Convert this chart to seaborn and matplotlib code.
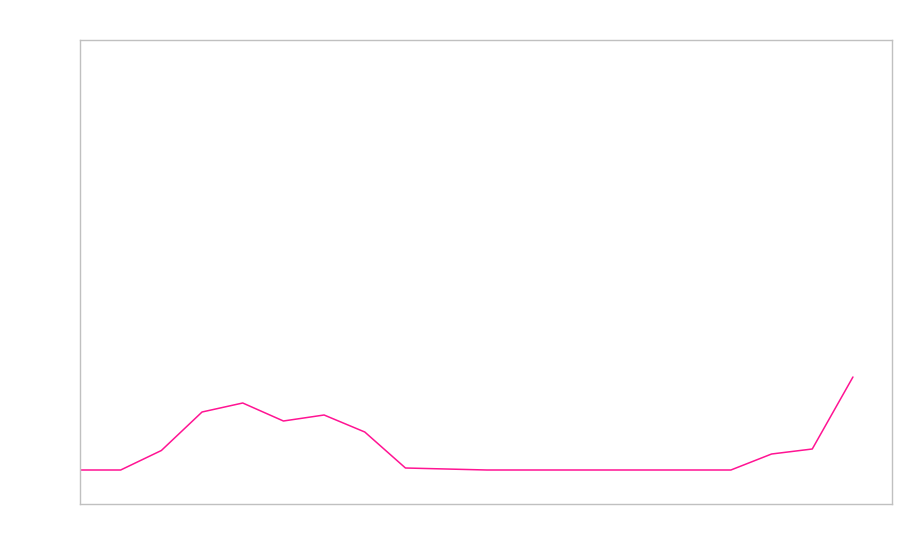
import matplotlib
matplotlib.use("Agg")
import matplotlib.pyplot as plt
import seaborn as sns
import pandas as pd

# valores (unidade arbitrária, 0 = linha de base)
indices = list(range(20))
valores = [0, 0, 1.95, 5.8, 6.7, 4.9, 5.5, 3.8, 0.2, 0.1,
           0, 0, 0, 0, 0, 0, 0, 1.6, 2.1, 9.3]

df = pd.DataFrame({"x": indices, "y": valores})

sns.set_style("white")
fig = plt.figure(figsize=(9, 5.6), dpi=100)
ax = fig.add_axes([80 / 900, 1 - 504 / 560, 812 / 900, 464 / 560])

sns.lineplot(data=df, x="x", y="y", ax=ax, color="#ff1493", linewidth=1.1)

ax.set_xlim(0, 19.96)
ax.set_ylim(-3.4, 43)
ax.set_xticks([])
ax.set_yticks([])
ax.set_xlabel("")
ax.set_ylabel("")
for s in ax.spines.values():
    s.set_visible(True)
    s.set_color("#c0c0c0")
    s.set_linewidth(1)

fig.savefig("out.png", dpi=100)
